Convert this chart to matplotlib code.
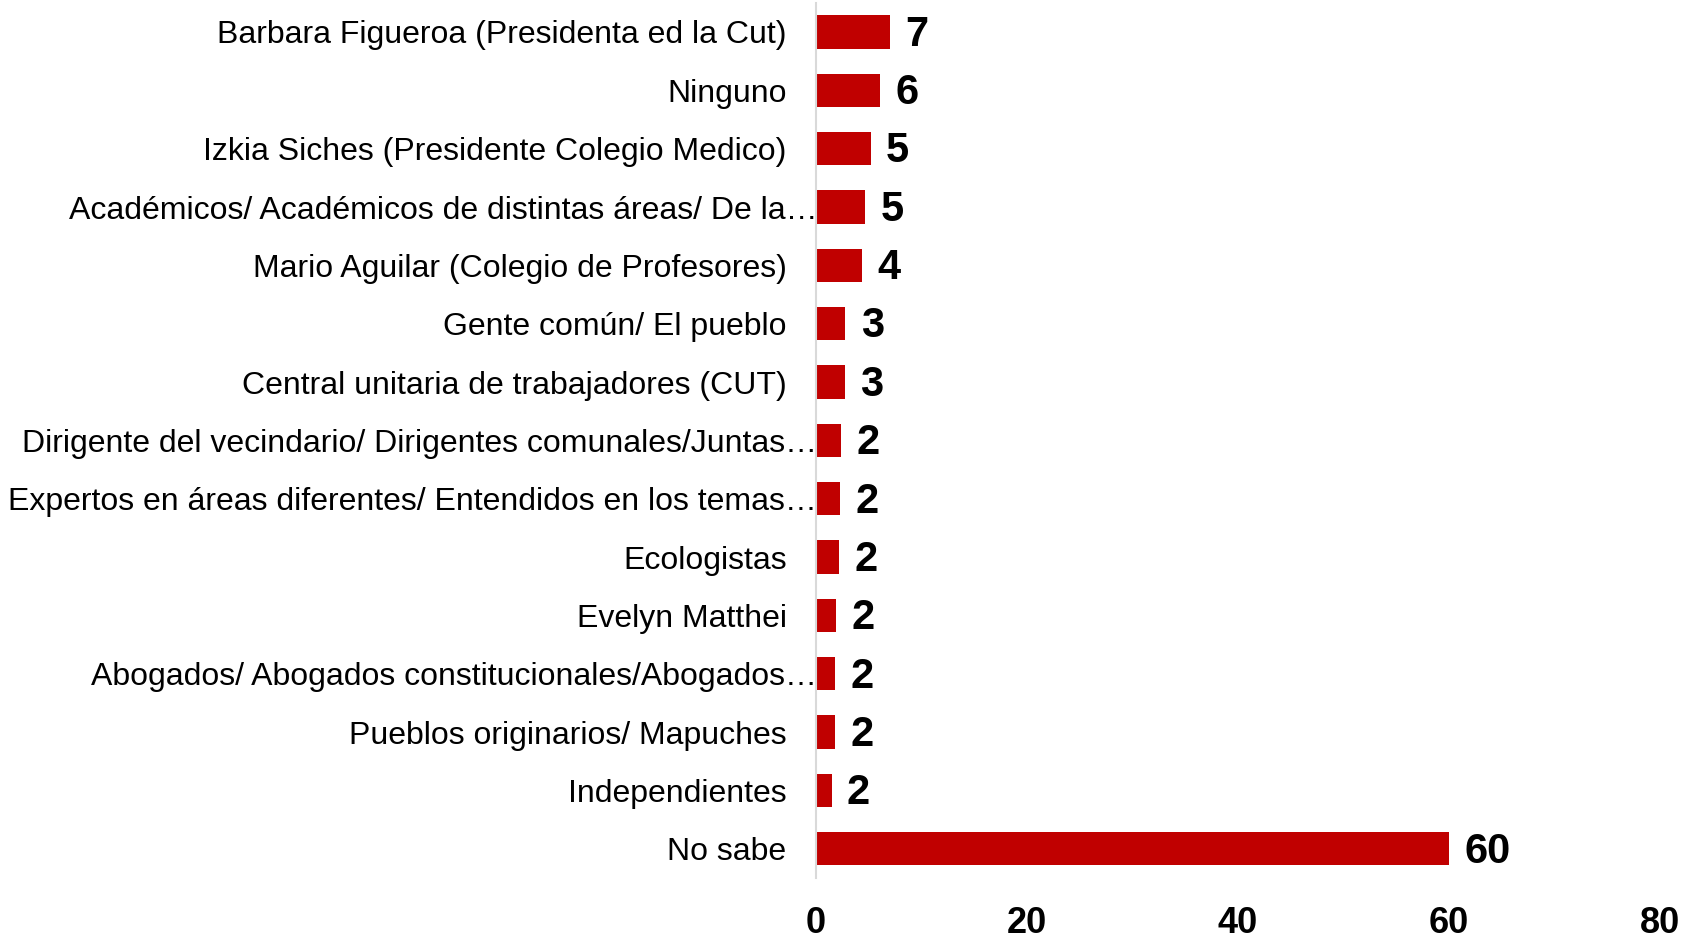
import matplotlib.pyplot as plt
import numpy as np

plt.rcParams['font.family'] = ['Liberation Sans', 'DejaVu Sans']

categories = [
    'Barbara Figueroa (Presidenta ed la Cut)',
    'Ninguno',
    'Izkia Siches (Presidente Colegio Medico)',
    'Académicos/ Académicos de distintas áreas/ De la…',
    'Mario Aguilar (Colegio de Profesores)',
    'Gente común/ El pueblo',
    'Central unitaria de trabajadores (CUT)',
    'Dirigente del vecindario/ Dirigentes comunales/Juntas…',
    'Expertos en áreas diferentes/ Entendidos en los temas…',
    'Ecologistas',
    'Evelyn Matthei',
    'Abogados/ Abogados constitucionales/Abogados…',
    'Pueblos originarios/ Mapuches',
    'Independientes',
    'No sabe',
]
values = [7.0, 6.1, 5.2, 4.7, 4.4, 2.8, 2.75, 2.4, 2.3, 2.2, 1.9, 1.8, 1.8, 1.5, 60.0]
x_ticks = [0, 20, 40, 60, 80]

fig = plt.figure(figsize=(16.96, 9.4), dpi=100)
ax = fig.add_axes([0.481, 0.066, 0.498, 0.931])

y = np.arange(len(categories))
bars = ax.barh(y, values, height=0.57, color='#C00000')

for yi, v in zip(y, values):
    ax.annotate(f'{v:.0f}', (v, yi), xytext=(11, -2), textcoords='offset points',
                ha='left', va='center', fontsize=30, fontweight='bold')

ax.set_ylim(len(categories) - 0.5, -0.5)
ax.set_xlim(0, 80)
ax.set_yticks(y)
ax.set_yticklabels(categories, fontsize=23)
ax.set_xticks(x_ticks)
ax.set_xticklabels([str(t) for t in x_ticks], fontsize=26, fontweight='bold')
ax.tick_params(axis='both', length=0)
ax.tick_params(axis='y', pad=21)
ax.tick_params(axis='x', pad=20)

# truncated labels sit right against the axis
for tick, lab in zip(ax.yaxis.get_major_ticks(), categories):
    if lab.endswith('…'):
        tick.set_pad(-1)

for s in ['top', 'right', 'bottom']:
    ax.spines[s].set_visible(False)
ax.spines['left'].set_color('#d9d9d9')
ax.spines['left'].set_linewidth(1.5)

fig.savefig('out.png', dpi=100)
